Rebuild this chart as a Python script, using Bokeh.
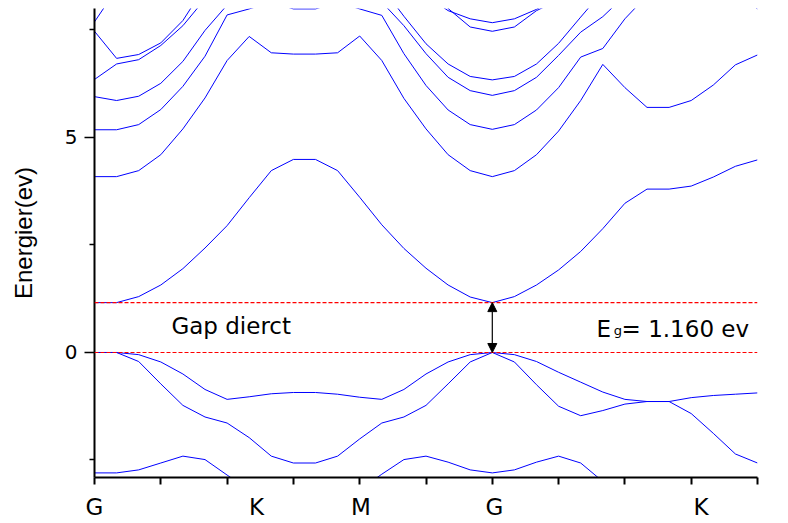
from bokeh.plotting import figure
from bokeh.models import Range1d, FixedTicker, Label, Arrow, NormalHead, Span
from bokeh.embed import file_html
from bokeh.resources import INLINE

# k-point index along the path
k = [0, 1, 2, 3, 4, 5, 6, 7, 8, 9, 10, 11, 12, 13, 14, 15, 16, 17, 18, 19, 20,
     21, 22, 23, 24, 25, 26, 27, 28, 29, 30]

# conduction bands (eV)
c1 = [1.16, 1.16, 1.30, 1.57, 1.95, 2.43, 2.95, 3.60, 4.23, 4.49, 4.49, 4.23, 3.61, 2.97, 2.42,
      1.96, 1.57, 1.29, 1.16, 1.30, 1.57, 1.92, 2.35, 2.88, 3.47, 3.80, 3.80, 3.87, 4.08, 4.33, 4.48]
c2 = [4.09, 4.09, 4.23, 4.60, 5.20, 5.92, 6.79, 7.35, 6.97, 6.94, 6.94, 6.97, 7.36, 6.79, 5.91,
      5.20, 4.60, 4.23, 4.09, 4.23, 4.60, 5.15, 5.86, 6.70, 6.16, 5.70, 5.70, 5.86, 6.22, 6.69, 6.92]
c3 = [5.18, 5.18, 5.30, 5.65, 6.19, 6.89, 7.85, 7.99, 8.15, 7.99, 7.99, 8.15, 7.99, 7.84, 6.95,
      6.21, 5.64, 5.30, 5.19, 5.30, 5.64, 6.16, 6.87, 7.07, 7.76, 8.30, 8.55, 8.60, 8.55, 8.40, 7.99]
c4 = [5.95, 5.86, 5.96, 6.26, 6.77, 7.49, 8.08, 8.60, 8.80, 8.90, 8.90, 8.80, 8.60, 8.15, 7.60,
      6.95, 6.40, 6.09, 5.98, 6.09, 6.40, 6.91, 7.45, 7.81, 8.30, 8.60, 8.80, 8.90, 9.00, 9.00, 9.00]
c5 = [6.35, 6.71, 6.81, 7.14, 7.60, 8.22, 8.70, 9.00, 9.20, 9.30, 9.30, 9.20, 9.00, 8.50, 7.82,
      7.18, 6.71, 6.42, 6.34, 6.42, 6.71, 7.19, 7.80, 8.40, 8.90, 9.20, 9.30, 9.40, 9.40, 9.40, 9.40]
c6 = [7.47, 6.84, 6.93, 7.20, 7.72, 8.52, 9.20, 9.50, 9.60, 9.70, 9.70, 9.60, 9.40, 9.00, 8.60,
      8.60, 8.00, 7.57, 7.47, 7.57, 7.95, 8.20, 8.80, 9.20, 9.50, 9.70, 9.80, 9.80, 9.80, 9.80, 9.80]
c7 = [7.69, 8.45, 8.90, 9.20, 9.50, 9.80, 9.90, 10.0, 10.0, 10.0, 10.0, 10.0, 9.90, 9.60, 9.00,
      8.30, 7.95, 7.76, 7.67, 7.76, 7.98, 8.30, 8.90, 9.50, 9.90, 10.0, 10.0, 10.0, 10.0, 10.0, 10.0]

# valence bands (eV)
v1 = [0.00, 0.00, -0.05, -0.22, -0.50, -0.86, -1.09, -1.03, -0.96, -0.93, -0.93, -0.97, -1.04, -1.09, -0.86,
      -0.50, -0.22, -0.05, 0.00, -0.05, -0.21, -0.46, -0.69, -0.92, -1.09, -1.14, -1.14, -1.05, -1.00, -0.97, -0.94]
v2 = [0.00, 0.00, -0.21, -0.73, -1.23, -1.50, -1.64, -1.98, -2.41, -2.57, -2.57, -2.41, -2.01, -1.64, -1.50,
      -1.23, -0.73, -0.22, 0.00, -0.22, -0.75, -1.25, -1.47, -1.35, -1.20, -1.14, -1.14, -1.42, -1.88, -2.36, -2.57]
v3 = [-2.80, -2.80, -2.73, -2.57, -2.41, -2.49, -2.85, -3.20, -3.50, -3.60, -3.60, -3.50, -3.20, -2.83, -2.49,
      -2.41, -2.55, -2.73, -2.80, -2.73, -2.55, -2.41, -2.57, -3.00, -3.40, -3.60, -3.70, -3.70, -3.60, -3.50, -3.40]

bands = [c1, c2, c3, c4, c5, c6, c7, v1, v2, v3]

# band edges and gap
vbm = 0.0
cbm = 1.160
gamma_k = 18

# high-symmetry point labels and their positions along the path
sym_labels = ["G", "K", "M", "G", "K"]
sym_pos = [0.0, 7.33, 12.05, 18.1, 27.45]

x_ticks = [0, 3, 6, 9, 12, 15, 18, 21, 24, 27, 30]
y_ticks = [0, 5]
y_minor = [-2.5, 2.5, 7.5]

p = figure(width=788, height=523, output_backend="svg", toolbar_location=None,
           x_range=Range1d(0, 30), y_range=Range1d(-2.907, 8.0),
           min_border_left=94, min_border_right=31, min_border_top=8, min_border_bottom=46)
p.outline_line_color = None
p.grid.visible = False
p.background_fill_color = "white"
p.border_fill_color = "white"

for b in bands:
    p.line(k, b, line_color="#0000ff", line_width=1)

for loc in (vbm, cbm):
    p.add_layout(Span(location=loc, dimension="width", line_color="#ff0000",
                      line_width=1.2, line_dash="4 2"))

p.add_layout(Arrow(x_start=gamma_k, y_start=vbm, x_end=gamma_k, y_end=cbm,
                   line_color="black", line_width=1.2,
                   start=NormalHead(size=9, fill_color="black", line_color="black"),
                   end=NormalHead(size=9, fill_color="black", line_color="black")))

font = "DejaVu Sans"

# x axis: symmetry labels as major (no tick marks), regular ticks as minor
xa = p.xaxis[0]
xa.ticker = FixedTicker(ticks=sym_pos, minor_ticks=x_ticks)
xa.major_label_overrides = {pos: name for pos, name in zip(sym_pos, sym_labels)}
xa.major_tick_out = 0
xa.major_tick_in = 0
xa.minor_tick_out = 7
xa.minor_tick_in = 0
xa.minor_tick_line_width = 2
xa.minor_tick_line_color = "black"
xa.axis_line_width = 2
xa.axis_line_color = "black"
xa.major_label_standoff = 9
xa.major_label_text_font = font
xa.major_label_text_font_size = "23px"
xa.major_label_text_color = "black"

ya = p.yaxis[0]
ya.ticker = FixedTicker(ticks=y_ticks, minor_ticks=y_minor)
ya.major_tick_out = 10
ya.major_tick_in = 0
ya.minor_tick_out = 5
ya.minor_tick_in = 0
ya.axis_line_width = 2
ya.major_tick_line_width = 1.5
ya.minor_tick_line_width = 1.5
ya.major_label_text_font = font
ya.major_label_text_font_size = "20px"
ya.major_label_text_color = "black"
ya.major_label_standoff = 7
ya.axis_label = "\u00a0\u00a0\u00a0Energier(ev)"
ya.axis_label_text_font = "Liberation Sans"
ya.axis_label_text_font_size = "24px"
ya.axis_label_text_font_style = "normal"
ya.axis_label_text_color = "black"
ya.axis_label_standoff = 25

p.add_layout(Label(x=3.48, y=0.61, text="Gap dierct", text_font=font, text_font_size="23px",
                   text_align="left", text_baseline="alphabetic", text_color="black"))

p.add_layout(Label(x=22.71, y=0.54, text="E", text_font=font, text_font_size="23px",
                   text_align="left", text_baseline="alphabetic", text_color="black"))
p.add_layout(Label(x=23.5, y=0.52, text="g", text_font=font, text_font_size="13px",
                   text_align="left", text_baseline="alphabetic", text_color="black"))
p.add_layout(Label(x=23.85, y=0.54, text="= 1.160 ev", text_font=font, text_font_size="23px",
                   text_align="left", text_baseline="alphabetic", text_color="black"))

open("out.html", "w").write(file_html(p, INLINE))
